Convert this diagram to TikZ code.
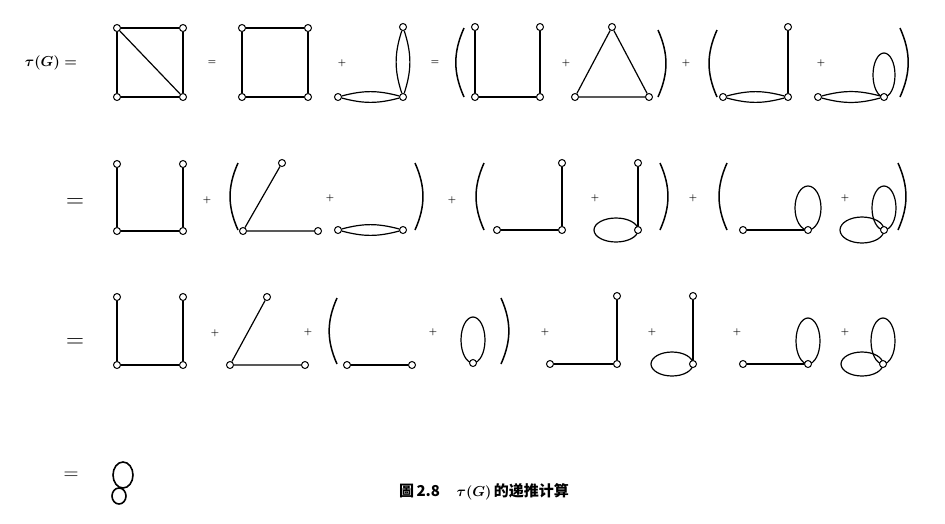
\documentclass[tikz,border=0pt]{standalone}
\usepackage{fontspec}
\newfontfamily\cjkfont{Noto Sans CJK SC}
\usepackage{tikz}
\usetikzlibrary{backgrounds}
\tikzset{
  vtx/.style={circle, draw=black, line width=1pt, fill=white,
              inner sep=0pt, minimum size=7pt},
  edge/.style={line width=1.2pt},
  paren/.style={line width=1.5pt},
  plus/.style={font=\small\boldmath, inner sep=0pt},
}

\begin{document}
\begin{tikzpicture}[
  x=1pt, y=-1pt,
  eqsmall/.style={font=\small\boldmath, inner sep=0pt},
  eqbig/.style={font=\fontsize{32}{32}\selectfont, inner sep=0pt},
  loopedge/.style={line width=1.2pt},
]
  \useasboundingbox (0,0) rectangle (945,523);

  % Row 1
  \node[inner sep=0pt, font=\fontsize{14}{16}\selectfont\boldmath] (tau) at (51,63) {$\tau(G)=$};

  \node[vtx] (ka) at (117,28) {};
  \node[vtx] (kb) at (183,28) {};
  \node[vtx] (kc) at (117,97) {};
  \node[vtx] (kd) at (183,97) {};
  \draw[edge] (ka) -- (kb) -- (kd) -- (kc) -- (ka);
  \draw[edge] (ka) -- (kd);

  \node[eqsmall] (eqa) at (212,63) {$=$};

  \node[vtx] (sa) at (242,28) {};
  \node[vtx] (sb) at (308,28) {};
  \node[vtx] (sc) at (242,97) {};
  \node[vtx] (sd) at (308,97) {};
  \draw[edge] (sa) -- (sb) -- (sd) -- (sc) -- (sa);

  \node[plus] (pa) at (342,63) {$+$};

  \node[vtx] (ca) at (338,97) {};
  \node[vtx] (cb) at (403,97) {};
  \node[vtx] (cc) at (403,27) {};
  \draw[edge] (ca) to[bend left=15] (cb) (ca) to[bend right=15] (cb);
  \draw[edge] (cb) to[bend left=18] (cc) (cb) to[bend right=18] (cc);

  \node[eqsmall] (eqb) at (435,63) {$=$};

  \draw[paren] (464,28) to[bend right=24] (464,97);

  \node[vtx] (ua) at (475,27) {};
  \node[vtx] (ub) at (540,27) {};
  \node[vtx] (uc) at (475,97) {};
  \node[vtx] (ud) at (540,97) {};
  \draw[edge] (ua) -- (uc) -- (ud) -- (ub);

  \node[plus] (pb) at (566,63) {$+$};

  \node[vtx] (ta) at (612,27) {};
  \node[vtx] (tb) at (575,97) {};
  \node[vtx] (tc) at (649,97) {};
  \draw[edge] (ta) -- (tb) -- (tc) -- (ta);

  \draw[paren] (658,30) to[bend left=24] (658,97);
  \node[plus] (pc) at (686,63) {$+$};
  \draw[paren] (717,30) to[bend right=24] (717,97);

  \node[vtx] (fa) at (723,97) {};
  \node[vtx] (fb) at (788,97) {};
  \node[vtx] (fc) at (788,27) {};
  \draw[edge] (fa) to[bend left=15] (fb) (fa) to[bend right=15] (fb);
  \draw[edge] (fb) -- (fc);

  \node[plus] (pd) at (821,63) {$+$};

  \node[vtx] (ga) at (818,97) {};
  \node[vtx] (gb) at (884,97) {};
  \draw[edge] (ga) to[bend left=15] (gb) (ga) to[bend right=15] (gb);
  \begin{scope}[on background layer]
    \draw[loopedge] ([yshift=22pt]gb.center) ellipse [x radius=11pt, y radius=22pt];
  \end{scope}

  \draw[paren] (900,28) to[bend left=24] (900,97);

  % Row 2
  \node[eqbig] (eqc) at (75,203) {$=$};

  \node[vtx] (ha) at (117,164) {};
  \node[vtx] (hb) at (183,164) {};
  \node[vtx] (hc) at (117,231) {};
  \node[vtx] (hd) at (183,231) {};
  \draw[edge] (ha) -- (hc) -- (hd) -- (hb);

  \node[plus] (pe) at (207,200) {$+$};
  \draw[paren] (238,163) to[bend right=24] (238,230);

  \node[vtx] (ia) at (282,163) {};
  \node[vtx] (ib) at (243,231) {};
  \node[vtx] (ic) at (318,231) {};
  \draw[edge] (ia) -- (ib) -- (ic);

  \node[plus] (pf) at (330,198) {$+$};

  \node[vtx] (ja) at (338,230) {};
  \node[vtx] (jb) at (403,230) {};
  \draw[edge] (ja) to[bend left=15] (jb) (ja) to[bend right=15] (jb);

  \draw[paren] (415,163) to[bend left=24] (415,230);
  \node[plus] (pg) at (452,200) {$+$};
  \draw[paren] (484,163) to[bend right=24] (484,230);

  \node[vtx] (la) at (497,230) {};
  \node[vtx] (lb) at (562,230) {};
  \node[vtx] (lc) at (562,163) {};
  \draw[edge] (la) -- (lb) -- (lc);

  \node[plus] (ph) at (595,198) {$+$};

  \node[vtx] (ma) at (638,230) {};
  \node[vtx] (mb) at (638,163) {};
  \draw[edge] (ma) -- (mb);
  \begin{scope}[on background layer]
    \draw[loopedge] ([xshift=-22pt]ma.center) ellipse [x radius=22pt, y radius=12pt];
  \end{scope}

  \draw[paren] (660,163) to[bend left=24] (660,230);
  \node[plus] (pi) at (693,198) {$+$};
  \draw[paren] (727,163) to[bend right=24] (727,230);

  \node[vtx] (na) at (743,230) {};
  \node[vtx] (nb) at (808,230) {};
  \draw[edge] (na) -- (nb);
  \begin{scope}[on background layer]
    \draw[loopedge] ([yshift=22pt]nb.center) ellipse [x radius=13pt, y radius=22pt];
  \end{scope}

  \node[plus] (pj) at (845,198) {$+$};

  \node[vtx] (oa) at (884,230) {};
  \begin{scope}[on background layer]
    \draw[loopedge] ([yshift=22pt]oa.center) ellipse [x radius=12pt, y radius=22pt];
    \draw[loopedge] ([xshift=-22pt]oa.center) ellipse [x radius=22pt, y radius=13pt];
  \end{scope}

  \draw[paren] (898,163) to[bend left=24] (898,230);

  % Row 3
  \node[eqbig] (eqd) at (75,343) {$=$};

  \node[vtx] (qa) at (117,297) {};
  \node[vtx] (qb) at (183,297) {};
  \node[vtx] (qc) at (117,365) {};
  \node[vtx] (qd) at (183,365) {};
  \draw[edge] (qa) -- (qc) -- (qd) -- (qb);

  \node[plus] (pk) at (215,333) {$+$};

  \node[vtx] (ra) at (267,297) {};
  \node[vtx] (rb) at (230,365) {};
  \node[vtx] (rc) at (305,365) {};
  \draw[edge] (ra) -- (rb) -- (rc);

  \node[plus] (pl) at (308,332) {$+$};
  \draw[paren] (337,298) to[bend right=24] (337,364);

  \node[vtx] (va) at (347,365) {};
  \node[vtx] (vb) at (412,365) {};
  \draw[edge] (va) -- (vb);

  \node[plus] (pm) at (433,332) {$+$};

  \node[vtx] (wa) at (473,363) {};
  \begin{scope}[on background layer]
    \draw[loopedge] ([yshift=23pt]wa.center) ellipse [x radius=12pt, y radius=23pt];
  \end{scope}

  \draw[paren] (501,298) to[bend left=24] (501,364);
  \node[plus] (pn) at (545,332) {$+$};

  \node[vtx] (xa) at (550,364) {};
  \node[vtx] (xb) at (617,364) {};
  \node[vtx] (xc) at (617,296) {};
  \draw[edge] (xa) -- (xb) -- (xc);

  \node[plus] (po) at (652,332) {$+$};

  \node[vtx] (ya) at (693,364) {};
  \node[vtx] (yb) at (693,296) {};
  \draw[edge] (ya) -- (yb);
  \begin{scope}[on background layer]
    \draw[loopedge] ([xshift=-21pt]ya.center) ellipse [x radius=21pt, y radius=12pt];
  \end{scope}

  \node[plus] (pp) at (737,332) {$+$};

  \node[vtx] (za) at (743,364) {};
  \node[vtx] (zb) at (808,364) {};
  \draw[edge] (za) -- (zb);
  \begin{scope}[on background layer]
    \draw[loopedge] ([yshift=23pt]zb.center) ellipse [x radius=12pt, y radius=23pt];
  \end{scope}

  \node[plus] (pq) at (845,332) {$+$};

  \node[vtx] (bb) at (883,364) {};
  \begin{scope}[on background layer]
    \draw[loopedge] ([yshift=23pt]bb.center) ellipse [x radius=12pt, y radius=23pt];
    \draw[loopedge] ([xshift=-21pt]bb.center) ellipse [x radius=21pt, y radius=12pt];
  \end{scope}

  % Row 4
  \node[inner sep=0pt, font=\fontsize{22}{22}\selectfont] (eqe) at (71,476) {$=$};
  \coordinate (bq) at (120,488);
  \draw[line width=1.6pt] ([xshift=3pt,yshift=13pt]bq) ellipse [x radius=10pt, y radius=13pt];
  \draw[line width=1.6pt] ([xshift=-1pt,yshift=-8pt]bq) ellipse [x radius=7pt, y radius=8pt];

  % caption
  \node[inner sep=0pt, font=\cjkfont\bfseries\fontsize{15}{17}\selectfont] (cap) at (484,492)
    {圖\,2.8\hspace{1.1em}{\boldmath$\tau(G)$}\,的递推计算};

\end{tikzpicture}
\end{document}
